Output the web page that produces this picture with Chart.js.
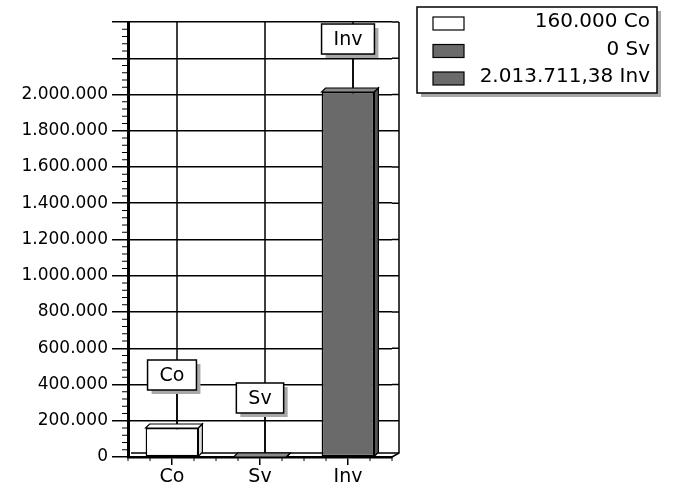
<!DOCTYPE html>
<html>
<head>
<meta charset="utf-8">
<script src="https://cdn.jsdelivr.net/npm/chart.js@4.4.0/dist/chart.umd.min.js"></script>
<style>
  html, body { margin: 0; padding: 0; background: #fff; }
  #chart { display: block; }
</style>
</head>
<body>
<canvas id="chart" width="674" height="495"></canvas>
<script>
// Données du graphique
const categories = ['Co', 'Sv', 'Inv'];
const values = [160000, 0, 2013711.38];
const barColors = ['#ffffff', '#6a6a6a', '#6a6a6a'];
const yMax = 2400000;
const yStep = 200000;
const yLabelMax = 2000000;
const yMinorStep = 40000;

const FONT = '"DejaVu Sans", sans-serif';
const DEPTH = 4;     // effet 3D des barres
const WALL = 7;      // profondeur du mur du fond

// Format allemand : 2.013.711,38
function formatDE(v) {
    const neg = v < 0;
    v = Math.abs(v);
    const entier = Math.floor(v);
    const dec = Math.round((v - entier) * 100);
    let s = String(entier).replace(/\B(?=(\d{3})+(?!\d))/g, '.');
    if (dec > 0) s += ',' + String(dec).padStart(2, '0');
    return (neg ? '-' : '') + s;
}

// Mur du fond : prolongement des lignes, bord droit, sol, lignes verticales
const wallPlugin = {
    id: 'wall',
    beforeDatasetsDraw(chart) {
        const { ctx, chartArea: a, scales } = chart;
        ctx.save();
        ctx.strokeStyle = '#000';
        ctx.lineWidth = 1.5;
        scales.y.ticks.forEach(t => {
            const y = scales.y.getPixelForValue(t.value);
            if (t.value === 0) return;
            ctx.beginPath();
            ctx.moveTo(a.right, y);
            ctx.lineTo(a.right + WALL, y);
            ctx.stroke();
        });
        ctx.beginPath();
        ctx.moveTo(a.right + WALL, a.top);
        ctx.lineTo(a.right + WALL, a.bottom - 4);
        ctx.lineTo(a.right, a.bottom);
        ctx.stroke();
        // sol
        ctx.beginPath();
        ctx.moveTo(a.left + 3, a.bottom - 4);
        ctx.lineTo(a.right + WALL, a.bottom - 4);
        ctx.stroke();
        categories.forEach((c, i) => {
            const x = scales.x.getPixelForValue(i) + 5;
            ctx.beginPath();
            ctx.moveTo(x, a.top);
            ctx.lineTo(x, a.bottom - 4);
            ctx.stroke();
        });
        ctx.restore();
    }
};

// Barres 3D, étiquettes encadrées, graduations mineures, légende
const decorPlugin = {
    id: 'decor',
    afterDatasetsDraw(chart) {
        const { ctx, chartArea: a, scales } = chart;
        const meta = chart.getDatasetMeta(0);
        ctx.save();

        // faces 3D
        meta.data.forEach((bar, i) => {
            const x1 = bar.x - bar.width / 2;
            const x2 = bar.x + bar.width / 2;
            const top = bar.y;
            const base = bar.base;
            ctx.lineWidth = 1.2;
            ctx.strokeStyle = '#000';
            ctx.fillStyle = i === 0 ? '#ffffff' : '#8a8a8a';
            ctx.beginPath();
            ctx.moveTo(x1, top);
            ctx.lineTo(x1 + DEPTH, top - DEPTH);
            ctx.lineTo(x2 + DEPTH, top - DEPTH);
            ctx.lineTo(x2, top);
            ctx.closePath();
            ctx.fill();
            ctx.stroke();
            ctx.fillStyle = i === 0 ? '#dddddd' : '#555555';
            ctx.beginPath();
            ctx.moveTo(x2, top);
            ctx.lineTo(x2 + DEPTH, top - DEPTH);
            ctx.lineTo(x2 + DEPTH, base - DEPTH);
            ctx.lineTo(x2, base);
            ctx.closePath();
            ctx.fill();
            ctx.stroke();
        });

        // étiquettes des barres
        ctx.font = '19px ' + FONT;
        ctx.textAlign = 'center';
        ctx.textBaseline = 'middle';
        meta.data.forEach((bar, i) => {
            const txt = categories[i];
            const w = ctx.measureText(txt).width + 24;
            const h = 30;
            const cx = scales.x.getPixelForValue(i);
            const bottom = Math.min(bar.y - 38, a.bottom - 44);
            const left = cx - w / 2;
            // trait de rappel
            ctx.strokeStyle = '#000';
            ctx.lineWidth = 1.5;
            ctx.beginPath();
            ctx.moveTo(cx + 5, bottom + 4);
            ctx.lineTo(cx + 5, bar.y - DEPTH);
            ctx.stroke();
            // ombre
            ctx.fillStyle = '#a8a8a8';
            ctx.fillRect(left + 4, bottom - h + 4, w, h);
            ctx.fillStyle = '#fff';
            ctx.fillRect(left, bottom - h, w, h);
            ctx.strokeRect(left, bottom - h, w, h);
            ctx.fillStyle = '#000';
            ctx.fillText(txt, cx, bottom - h / 2 + 1);
        });

        // graduations mineures
        ctx.strokeStyle = '#000';
        ctx.lineWidth = 1;
        for (let v = 0; v <= yMax; v += yMinorStep) {
            if (v % yStep === 0) continue;
            const y = scales.y.getPixelForValue(v);
            ctx.beginPath();
            ctx.moveTo(a.left - 6, y);
            ctx.lineTo(a.left, y);
            ctx.stroke();
        }
        const cw = (a.right - a.left) / categories.length;
        for (let k = 0; k <= categories.length * 4; k++) {
            if (k % 4 === 2) continue;
            const x = a.left + k * cw / 4;
            ctx.beginPath();
            ctx.moveTo(x, a.bottom);
            ctx.lineTo(x, a.bottom + 4);
            ctx.stroke();
        }

        // légende
        const lx = 417, ly = 7, lw = 240, lh = 86;
        ctx.fillStyle = '#a8a8a8';
        ctx.fillRect(lx + 4, ly + 4, lw, lh);
        ctx.fillStyle = '#fff';
        ctx.fillRect(lx, ly, lw, lh);
        ctx.strokeStyle = '#000';
        ctx.lineWidth = 1.5;
        ctx.strokeRect(lx, ly, lw, lh);
        ctx.font = '20px ' + FONT;
        ctx.textAlign = 'right';
        ctx.textBaseline = 'middle';
        categories.forEach((c, i) => {
            const ry = 21 + i * 27.5;
            ctx.fillStyle = barColors[i];
            ctx.fillRect(433, ry - 4, 31, 13);
            ctx.lineWidth = 1.2;
            ctx.strokeRect(433, ry - 4, 31, 13);
            ctx.fillStyle = '#000';
            ctx.fillText(formatDE(values[i]) + ' ' + c, 650, ry + 1);
        });
        ctx.restore();
    }
};

const ctx = document.getElementById('chart').getContext('2d');
const chart = new Chart(ctx, {
    type: 'bar',
    data: {
        labels: categories,
        datasets: [{
            data: values,
            backgroundColor: barColors,
            borderColor: '#000',
            borderWidth: 1.5,
            borderSkipped: false,
            barPercentage: 0.6,
            categoryPercentage: 1.0
        }]
    },
    options: {
        responsive: false,
        animation: false,
        events: [],
        layout: { padding: { top: 22, right: 282, left: 0, bottom: 0 } },
        plugins: {
            legend: { display: false },
            tooltip: { enabled: false }
        },
        scales: {
            x: {
                offset: true,
                afterFit: s => { s.height = 38; },
                grid: {
                    offset: false,
                    drawOnChartArea: false,
                    drawTicks: true,
                    tickLength: 8,
                    color: '#000',
                    lineWidth: 1.5
                },
                border: { display: true, color: '#000', width: 2.5 },
                ticks: {
                    color: '#000',
                    padding: 1,
                    font: { family: FONT, size: 19 }
                }
            },
            y: {
                min: 0,
                max: yMax,
                afterFit: s => { s.width = 128; },
                grid: {
                    color: '#000',
                    lineWidth: 1.5,
                    tickLength: 16
                },
                border: { display: true, color: '#000', width: 3 },
                ticks: {
                    stepSize: yStep,
                    autoSkip: false,
                    color: '#000',
                    padding: 4,
                    font: { family: FONT, size: 17 },
                    callback: v => (v > yLabelMax ? '' : formatDE(v))
                }
            }
        }
    },
    plugins: [wallPlugin, decorPlugin]
});
</script>
</body>
</html>
